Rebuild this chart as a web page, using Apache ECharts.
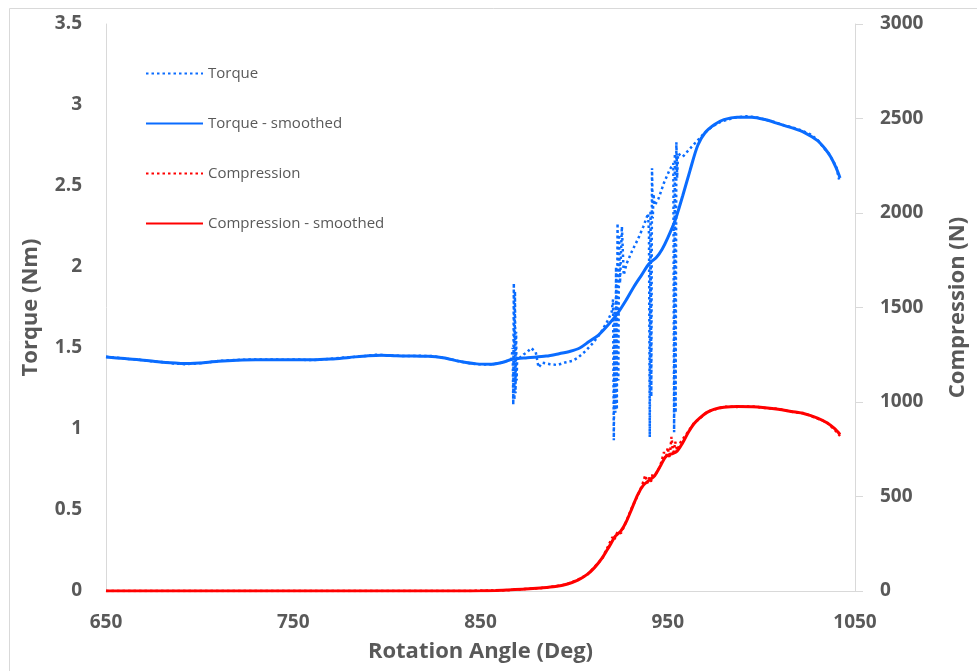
<!DOCTYPE html>
<html>
<head>
<meta charset="utf-8">
<script src="https://cdn.jsdelivr.net/npm/echarts@6/dist/echarts.min.js"></script>
<style>html,body{margin:0;padding:0;background:#fff}#c{width:977px;height:671px}</style>
</head>
<body>
<div id="c"></div>
<script>
// ---- data ----
const torqueRawX = [650,656,662,668,674,680,686,692,698,704,710,716,722,728,734,740,746,752,758,764,770,776,782,788,794,800,806,812,818,824,830,836,842,848,854,860,864,866.5,
 867.2,867.5,867.8,868.1,868.4,868.7,869.0,869.3,869.6,
 871,873,875,877,879.5,881,883,887,891,895,899,902,906,910,914,918,920,
 920.8,921.2,921.6,922,922.4,922.8,923.2,923.6,924,924.5,925.5,926.5,
 928,931,934,937,939.5,
 940,940.4,940.8,941.2,941.6,942,942.4,943,
 945,948,951,953,
 953.4,953.8,954.2,954.6,955,955.5,
 958,961,965,969,973,977,982,987,992,997,1002,1007,1012,1017,1022,1026,1030,1033,1036,1038,1040,1041.5];
const torqueRawY = [1.446,1.44,1.432,1.428,1.418,1.413,1.405,1.400,1.404,1.41,1.42,1.424,1.427,1.43,1.428,1.429,1.427,1.43,1.425,1.428,1.434,1.44,1.445,1.45,1.458,1.455,1.452,1.45,1.452,1.45,1.44,1.425,1.41,1.40,1.398,1.405,1.42,1.43,
 1.50,1.15,1.90,1.18,1.85,1.22,1.60,1.30,1.45,
 1.44,1.46,1.475,1.50,1.475,1.38,1.41,1.40,1.395,1.41,1.42,1.44,1.48,1.53,1.59,1.67,1.72,
 1.80,0.93,1.75,1.10,2.0,1.12,2.27,1.3,2.2,1.9,2.25,1.95,
 2.02,2.10,2.17,2.25,2.33,
 2.2,0.95,2.35,1.2,2.61,2.30,2.45,2.38,
 2.42,2.52,2.60,2.64,
 0.98,2.70,1.1,2.77,2.55,2.7,
 2.68,2.72,2.77,2.82,2.86,2.89,2.91,2.925,2.93,2.925,2.91,2.895,2.875,2.86,2.84,2.82,2.785,2.74,2.70,2.66,2.62,2.54];

const torqueSmX = [650,660,670,680,690,695,700,710,720,730,740,750,760,770,780,790,797,805,815,822,830,840,848,856,862,867,875,885,892,898,903,908,913,918,923,928,932,936,940,944,947,950,954,958,962,966,970,975,980,987,995,1002,1009,1016,1023,1030,1034,1037,1040,1042];
const torqueSmY = [1.444,1.435,1.425,1.412,1.405,1.404,1.407,1.418,1.425,1.428,1.428,1.428,1.427,1.432,1.442,1.452,1.456,1.452,1.450,1.449,1.44,1.415,1.402,1.400,1.412,1.430,1.44,1.45,1.465,1.48,1.50,1.54,1.58,1.64,1.71,1.80,1.88,1.95,2.02,2.06,2.11,2.18,2.29,2.44,2.60,2.75,2.83,2.88,2.91,2.925,2.925,2.91,2.885,2.86,2.83,2.78,2.73,2.68,2.61,2.55];

const compRawX = [650,700,750,800,840,850,858,866,874,882,890,896,902,907,911,915,919,920.5,921.5,922.5,923.5,925,928,931,934,936.5,938,939,940,941,942,944,946,948,949,950,951,952,953,954,955,957,960,964,967,971,975,980,987,995,1002,1009,1016,1023,1030,1035,1039,1042];
const compRawY = [0,0,0,0,0,1,3,5,11,15,25,35,60,86,128,172,255,285,270,300,315,305,372,445,505,565,612,570,600,578,620,625,662,735,700,760,705,815,720,790,745,790,830,888,912,948,960,975,974,977,968,964,948,940,912,892,855,820];

const compSmX = [650,700,750,800,840,850,858,866,874,882,890,896,902,907,911,915,919,922,925,928,931,934,937,940,943,946,949,952,955,958,961,964,967,971,975,980,987,995,1002,1009,1016,1023,1030,1035,1039,1042];
const compSmY = [0,0,0,0,0,1,3,6,10,16,24,36,58,88,125,175,240,290,318,370,440,510,560,585,610,660,712,725,740,785,840,885,915,945,962,972,976,975,970,962,950,938,915,890,860,828];

const xTicks = {min:650, max:1050, interval:100};
const yLeftTicks = {min:0, max:3.5, interval:0.5};
const yRightTicks = {min:0, max:3000, interval:500};

const zip = (xs, ys) => xs.map((x, i) => [x, ys[i]]);

const BLUE = '#0A6CFF';
const RED = '#FF0000';
const GRAY = '#595959';
const FONT = 'Open Sans';
const plain = v => String(v);

const chart = echarts.init(document.getElementById('c'), null, {renderer: 'canvas'});
chart.setOption({
  animation: false,
  backgroundColor: '#fff',
  graphic: [{
    type: 'rect', left: 7, top: 6, silent: true,
    shape: {x: 0, y: 0, width: 1000, height: 1000},
    style: {fill: 'none', stroke: '#D9D9D9', lineWidth: 1}
  }],
  grid: {left: 106, right: 120, top: 24, bottom: 80},
  legend: {
    orient: 'vertical', left: 140, top: 61,
    itemWidth: 57, itemHeight: 14, itemGap: 35,
    itemStyle: {opacity: 0},
    textStyle: {color: GRAY, fontSize: 15, fontFamily: FONT},
    data: ['Torque', 'Torque - smoothed', 'Compression', 'Compression - smoothed']
  },
  xAxis: {
    type: 'value', min: xTicks.min, max: xTicks.max, interval: xTicks.interval,
    name: 'Rotation Angle (Deg)', nameLocation: 'middle', nameGap: 50,
    nameTextStyle: {color: GRAY, fontSize: 22, fontWeight: 'bold', fontFamily: FONT},
    axisLine: {show: true, lineStyle: {color: '#D9D9D9', width: 1}},
    axisTick: {show: false},
    splitLine: {show: false},
    axisLabel: {color: GRAY, fontSize: 19, fontWeight: 'bold', fontFamily: FONT, margin: 22, formatter: plain}
  },
  yAxis: [{
    type: 'value', min: yLeftTicks.min, max: yLeftTicks.max, interval: yLeftTicks.interval,
    position: 'left',
    name: 'Torque (Nm)', nameLocation: 'middle', nameGap: 64,
    nameTextStyle: {color: GRAY, fontSize: 22, fontWeight: 'bold', fontFamily: FONT},
    axisLine: {show: true, lineStyle: {color: '#D9D9D9', width: 1}},
    axisTick: {show: false},
    splitLine: {show: false},
    axisLabel: {color: GRAY, fontSize: 19, fontWeight: 'bold', fontFamily: FONT, margin: 24, formatter: plain}
  }, {
    type: 'value', min: yRightTicks.min, max: yRightTicks.max, interval: yRightTicks.interval,
    position: 'right',
    name: 'Compression (N)', nameLocation: 'middle', nameGap: 92,
    nameTextStyle: {color: GRAY, fontSize: 22, fontWeight: 'bold', fontFamily: FONT},
    axisLine: {show: true, lineStyle: {color: '#D9D9D9', width: 1}},
    axisTick: {show: true, inside: false, length: 8, lineStyle: {color: '#D9D9D9'}},
    splitLine: {show: false},
    axisLabel: {color: GRAY, fontSize: 19, fontWeight: 'bold', fontFamily: FONT, margin: 25, formatter: plain}
  }],
  series: [{
    name: 'Torque', type: 'line', yAxisIndex: 0, showSymbol: false, symbol: 'none',
    data: zip(torqueRawX, torqueRawY),
    lineStyle: {color: BLUE, width: 2.5, type: [2.5, 3]},
    itemStyle: {color: BLUE}
  }, {
    name: 'Torque - smoothed', type: 'line', yAxisIndex: 0, showSymbol: false, symbol: 'none', smooth: 0.3,
    data: zip(torqueSmX, torqueSmY),
    lineStyle: {color: BLUE, width: 3},
    itemStyle: {color: BLUE}
  }, {
    name: 'Compression', type: 'line', yAxisIndex: 1, showSymbol: false, symbol: 'none',
    data: zip(compRawX, compRawY),
    lineStyle: {color: RED, width: 2.5, type: [2.5, 3]},
    itemStyle: {color: RED}
  }, {
    name: 'Compression - smoothed', type: 'line', yAxisIndex: 1, showSymbol: false, symbol: 'none', smooth: 0.3,
    data: zip(compSmX, compSmY),
    lineStyle: {color: RED, width: 3},
    itemStyle: {color: RED}
  }]
});
</script>
</body>
</html>
